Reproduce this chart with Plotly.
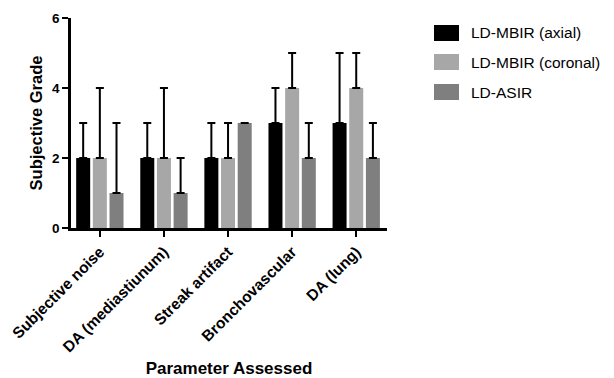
import plotly.graph_objects as go

categories = ["Subjective noise", "DA (mediastiunum)", "Streak artifact", "Bronchovascular", "DA (lung)"]
series_names = ["LD-MBIR (axial)", "LD-MBIR (coronal)", "LD-ASIR"]
axial_vals = [2, 2, 2, 3, 3]
axial_err = [1, 1, 1, 1, 2]
coronal_vals = [2, 2, 2, 4, 4]
coronal_err = [2, 2, 1, 1, 1]
asir_vals = [1, 1, 3, 2, 2]
asir_err = [2, 1, 0, 1, 1]
y_ticks = [0, 2, 4, 6]

colors = ["#000000", "#a7a7a7", "#7f7f7f"]
values = [axial_vals, coronal_vals, asir_vals]
errors = [axial_err, coronal_err, asir_err]

FONT = "Liberation Sans, Arial, sans-serif"

# the page body has an 8px margin; compensate so the figure lines up with the window
OFF = 8
FW, FH = 614 - OFF, 378 - OFF

fig = go.Figure()
for name, vals, errs, col in zip(series_names, values, errors, colors):
    fig.add_trace(go.Bar(
        x=categories, y=vals, name=name,
        marker=dict(color=col, line=dict(width=0)),
        error_y=dict(type="data", array=errs, arrayminus=[0] * len(errs), symmetric=False,
                     color="#000000", thickness=2, width=4),
        showlegend=False,
    ))

# plot area in screenshot pixels: x 71..387, y 18..228
L, R, T, B = 71 - OFF, 387 - OFF, 18 - OFF, 228 - OFF
W, H = R - L, B - T

def px(x):
    return (x - OFF - L) / W

def py(y):
    return (B - (y - OFF)) / H

shapes = []
annotations = []
legend_rows = [33, 62, 92]
for name, col, yc in zip(series_names, colors, legend_rows):
    shapes.append(dict(type="rect", xref="paper", yref="paper",
                       x0=px(434), x1=px(459), y0=py(yc + 8), y1=py(yc - 8),
                       fillcolor=col, line=dict(width=0)))
    annotations.append(dict(xref="paper", yref="paper", x=px(469), y=py(yc),
                            text=name, showarrow=False, xanchor="left", yanchor="middle",
                            font=dict(family=FONT, size=15.5, color="#000000")))

fig.update_layout(
    width=FW, height=FH,
    margin=dict(l=L, r=FW - R, t=T, b=FH - B, autoexpand=False),
    paper_bgcolor="white", plot_bgcolor="white",
    barmode="group", bargap=0.22, bargroupgap=0.16,
    font=dict(family=FONT, color="#000000"),
    shapes=shapes, annotations=annotations,
    xaxis=dict(
        range=[-0.45, 4.48], automargin=False,
        showline=True, linecolor="#000000", linewidth=2.5,
        ticks="outside", ticklen=6, tickwidth=2, tickcolor="#000000",
        tickangle=-45,
        tickfont=dict(family=FONT, size=15.5, color="#000000", weight="bold"),
        title=dict(text="<b>Parameter Assessed</b>", standoff=10,
                   font=dict(family=FONT, size=17, color="#000000")),
        showgrid=False, zeroline=False,
    ),
    yaxis=dict(
        range=[0, 6], automargin=False,
        tickvals=y_ticks,
        showline=True, linecolor="#000000", linewidth=2.5,
        ticks="outside", ticklen=6, tickwidth=2, tickcolor="#000000",
        tickfont=dict(family=FONT, size=13.5, color="#000000", weight="bold"),
        title=dict(text="<b>Subjective Grade</b>", standoff=6,
                   font=dict(family=FONT, size=16.5, color="#000000")),
        showgrid=False, zeroline=False,
    ),
)

fig.write_html("out.html")
